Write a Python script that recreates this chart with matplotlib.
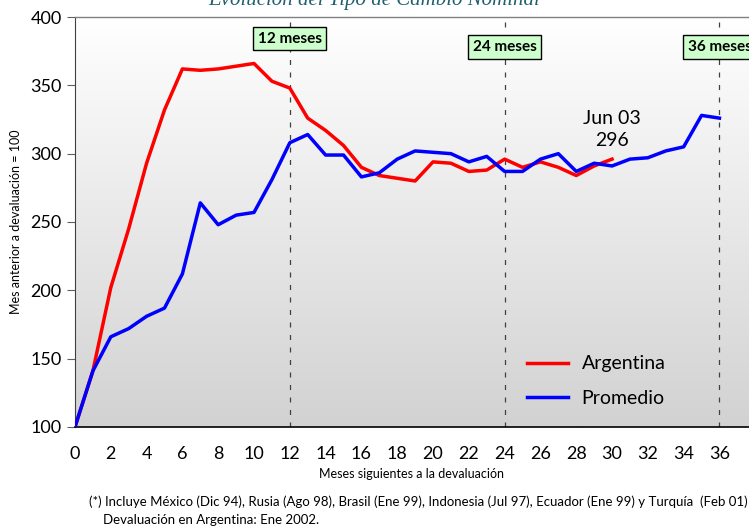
import numpy as np
import matplotlib
matplotlib.use("Agg")
import matplotlib.pyplot as plt
from matplotlib.ticker import MultipleLocator, FixedLocator

plt.rcParams['font.family'] = ['Lato', 'DejaVu Sans']

months_arg = list(range(0, 31))
argentina = [100, 141, 202, 245, 293, 332, 362, 361, 362, 364, 366, 353, 348,
             326, 317, 306, 290, 284, 282, 280, 294, 293, 287, 288, 296, 290,
             294, 290, 284, 291, 296]
months_prom = list(range(0, 37))
promedio = [100, 141, 166, 172, 181, 187, 212, 264, 248, 255, 257, 281, 308,
            314, 299, 299, 283, 286, 296, 302, 301, 300, 294, 298, 287, 287,
            296, 300, 287, 293, 291, 296, 297, 302, 305, 328, 326]
marks = [12, 24, 36]
mark_labels = ["12 meses", "24 meses", "36 meses"]

fig = plt.figure(figsize=(7.49, 5.28), dpi=100)
ax = fig.add_axes([0.1001, 0.1913, 0.8999, 0.7765])
ax.set_xlim(0, 37.65)
ax.set_ylim(100, 400)

# gradient background
grad = np.linspace(0, 1, 256).reshape(-1, 1)
ax.imshow(grad, extent=[0, 37.65, 100, 400], aspect='auto', origin='upper',
          cmap=matplotlib.colors.LinearSegmentedColormap.from_list('g', ['#ffffff', '#d2d2d2']),
          zorder=0)

for m in marks:
    ax.axvline(m, color='#404040', lw=0.9, ls=(0, (4, 6)), zorder=1)

ax.plot(months_arg, argentina, color='#ff0000', lw=2.5, label='Argentina', zorder=3)
ax.plot(months_prom, promedio, color='#0000ff', lw=2.5, label='Promedio', zorder=4)

ax.xaxis.set_major_locator(MultipleLocator(2))
ax.xaxis.set_minor_locator(FixedLocator([0, 12, 24, 36]))
ax.yaxis.set_major_locator(MultipleLocator(50))
ax.tick_params(axis='x', which='major', length=0, labelsize=13, pad=14)
ax.tick_params(axis='x', which='minor', length=6, direction='out', color='black')
ax.tick_params(axis='y', length=6, direction='out', labelsize=13, color='#606060')
ax.spines['right'].set_visible(False)
ax.spines['top'].set_color('#808080')
ax.spines['top'].set_linewidth(1.0)
ax.spines['left'].set_color('#404040')
ax.spines['bottom'].set_color('black')
ax.spines['bottom'].set_linewidth(1.2)

ax.set_xlabel('Meses siguientes a la devaluación', fontsize=9)
ax.set_ylabel('Mes anterior a devaluación = 100', fontsize=9, labelpad=6)

box_y = [384, 378, 378]
for m, lab, yy in zip(marks, mark_labels, box_y):
    ax.text(m, yy, lab, ha='center', va='center', fontsize=11, fontweight='bold',
            bbox=dict(boxstyle='square,pad=0.3', fc='#ccffcc', ec='black', lw=1),
            zorder=6, clip_on=False)

ax.text(30, 318, 'Jun 03\n296', ha='center', va='center', fontsize=14,
        linespacing=1.35, zorder=6)

leg = ax.legend(loc='center left', bbox_to_anchor=(0.671, 0.112), frameon=False,
                fontsize=14, handlelength=2.1, handletextpad=0.7, labelspacing=0.9,
                borderpad=0, borderaxespad=0)

fig.text(0.5, 1.0, 'Evolución del Tipo de Cambio Nominal', ha='center', va='center',
         fontsize=15, style='italic', family=['Liberation Serif'], color='#1f5f6f')

fig.text(0.119, 0.050, '(*) Incluye México (Dic 94), Rusia (Ago 98), Brasil (Ene 99), Indonesia (Jul 97), Ecuador (Ene 99) y Turquía  (Feb 01)',
         fontsize=9.5, ha='left', va='center')
fig.text(0.138, 0.016, 'Devaluación en Argentina: Ene 2002.', fontsize=9.5, ha='left', va='center')

fig.savefig('out.png', dpi=100)
